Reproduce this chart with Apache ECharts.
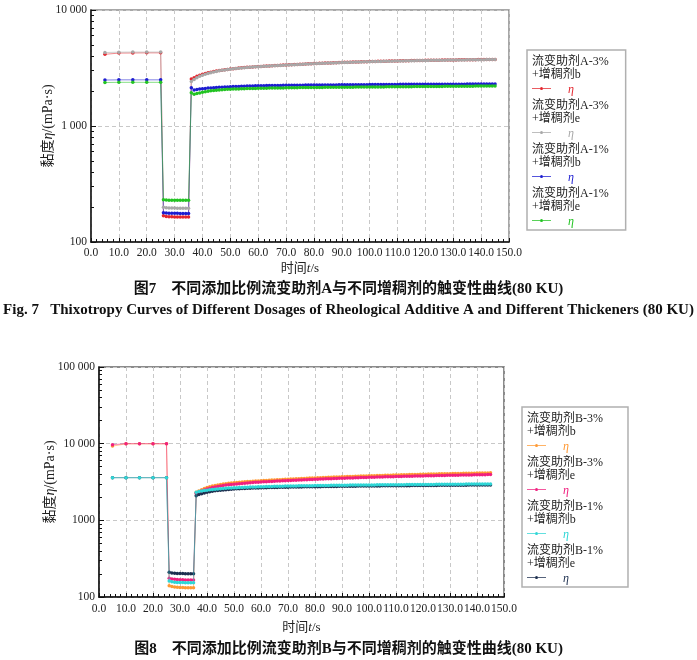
<!DOCTYPE html>
<html><head><meta charset="utf-8">
<script src="https://cdn.jsdelivr.net/npm/echarts@6/dist/echarts.min.js"></script>
<style>html,body{margin:0;padding:0;background:#fff}#c{width:697px;height:660px}</style>
</head><body><div id="c"></div>
<script>
// ---------- data ----------
const time = [5,10,15,20,25,
26,27,28,29,30,31,32,33,34,35,
36,37,38,39,40,41,42,43,44,45,
46,47,48,49,50,51,52,53,54,55,
56,57,58,59,60,61,62,63,64,65,
66,67,68,69,70,71,72,73,74,75,
76,77,78,79,80,81,82,83,84,85,
86,87,88,89,90,91,92,93,94,95,
96,97,98,99,100,101,102,103,104,105,
106,107,108,109,110,111,112,113,114,115,
116,117,118,119,120,121,122,123,124,125,
126,127,128,129,130,131,132,133,134,135,
136,137,138,139,140,141,142,143,144,145];

const namesA = ['流变助剂A-3%+增稠剂b','流变助剂A-3%+增稠剂e','流变助剂A-1%+增稠剂b','流变助剂A-1%+增稠剂e'];
const namesB = ['流变助剂B-3%+增稠剂b','流变助剂B-3%+增稠剂e','流变助剂B-1%+增稠剂b','流变助剂B-1%+增稠剂e'];

const a3b = [4150,4250,4260,4270,4270,
168,166,165,165,164,164,164,164,164,164,
2540,2610,2680,2740,2790,2835,2875,2912,2946,2977,
3005,3031,3055,3077,3098,3118,3137,3155,3172,3188,
3203,3217,3230,3242,3253,3264,3275,3286,3297,3308,
3318,3328,3338,3348,3358,3368,3378,3388,3397,3406,
3415,3424,3433,3442,3451,3460,3468,3476,3484,3492,
3500,3508,3515,3522,3529,3536,3543,3550,3556,3562,
3568,3574,3580,3586,3592,3597,3602,3607,3612,3617,
3622,3627,3632,3637,3642,3646,3650,3654,3658,3662,
3666,3670,3674,3678,3682,3685,3688,3691,3694,3697,
3700,3703,3706,3709,3712,3715,3718,3721,3723,3726,
3729,3731,3734,3736,3739,3741,3744,3746,3748,3750];

const a3e = [4300,4330,4340,4340,4340,
199,197,196,196,196,195,195,195,195,195,
2420,2520,2610,2685,2745,2797,2842,2882,2920,2955,
2990,3018,3044,3067,3089,3110,3129,3147,3164,3180,
3195,3209,3222,3234,3245,3256,3267,3278,3289,3300,
3310,3320,3330,3340,3350,3360,3370,3380,3389,3398,
3407,3416,3425,3434,3443,3452,3460,3468,3476,3484,
3492,3500,3507,3514,3521,3528,3535,3542,3548,3554,
3560,3566,3572,3578,3584,3589,3594,3599,3604,3609,
3614,3619,3624,3629,3634,3638,3642,3646,3650,3654,
3658,3662,3666,3670,3674,3677,3680,3683,3686,3689,
3692,3695,3698,3701,3704,3707,3710,3713,3715,3718,
3721,3723,3726,3728,3731,3733,3736,3738,3740,3742];

const a1b = [2490,2500,2500,2500,2500,
179,178,177,177,177,177,176,176,176,176,
2140,2045,2065,2082,2097,2110,2121,2131,2140,2148,
2155,2162,2168,2174,2180,2185,2190,2195,2199,2203,
2207,2211,2215,2219,2222,2225,2227,2229,2231,2233,
2235,2237,2239,2241,2243,2245,2246,2247,2248,2249,
2250,2251,2252,2253,2254,2255,2256,2257,2258,2259,
2260,2261,2262,2263,2264,2265,2266,2267,2268,2269,
2270,2271,2272,2273,2274,2275,2276,2277,2278,2279,
2280,2281,2282,2283,2284,2285,2285,2286,2286,2287,
2287,2288,2288,2289,2289,2290,2290,2291,2291,2292,
2292,2293,2293,2294,2294,2295,2295,2296,2296,2297,
2297,2298,2298,2299,2299,2300,2300,2300,2301,2301];

const a1e = [2370,2380,2380,2380,2380,
231,230,229,229,229,229,229,229,229,229,
1937,1880,1905,1930,1955,1975,1993,2009,2023,2035,
2045,2054,2062,2069,2075,2080,2085,2089,2093,2097,
2100,2103,2106,2109,2112,2115,2117,2119,2121,2123,
2125,2127,2129,2131,2133,2135,2137,2139,2141,2143,
2145,2146,2147,2148,2149,2150,2151,2152,2153,2154,
2155,2156,2157,2158,2159,2160,2161,2162,2163,2164,
2165,2166,2167,2168,2169,2170,2171,2172,2173,2174,
2175,2176,2177,2178,2179,2180,2181,2182,2183,2184,
2185,2186,2187,2188,2189,2190,2191,2192,2193,2194,
2195,2196,2197,2198,2199,2200,2201,2202,2203,2204,
2205,2206,2207,2208,2209,2210,2211,2212,2213,2214];

const b3b = [9300,9950,9950,9950,9950,
140,137,135,134,133,133,132,132,132,132,
2330,2420,2510,2600,2680,2745,2805,2855,2900,2940,
2977,3010,3040,3068,3095,3118,3140,3161,3181,3200,
3218,3236,3253,3270,3286,3302,3318,3334,3350,3366,
3381,3396,3411,3426,3441,3456,3470,3484,3498,3512,
3526,3540,3553,3566,3579,3592,3605,3617,3629,3641,
3653,3665,3677,3688,3700,3711,3722,3733,3744,3755,
3766,3777,3788,3798,3808,3818,3828,3838,3848,3858,
3868,3878,3887,3896,3905,3914,3923,3932,3941,3950,
3959,3967,3975,3983,3991,3999,4007,4015,4023,4031,
4038,4045,4052,4059,4066,4073,4080,4087,4094,4101,
4107,4113,4119,4125,4131,4137,4143,4149,4155,4160];

const b3e = [9700,10000,10000,10000,10000,
176,172,170,169,168,168,167,167,167,167,
2250,2330,2410,2490,2560,2620,2675,2725,2770,2810,
2846,2879,2909,2937,2963,2987,3010,3032,3053,3073,
3092,3110,3127,3144,3160,3176,3191,3206,3221,3236,
3250,3264,3278,3292,3305,3318,3331,3344,3357,3369,
3381,3393,3405,3417,3429,3441,3452,3463,3474,3485,
3496,3507,3518,3528,3538,3548,3558,3568,3578,3588,
3598,3608,3617,3626,3635,3644,3653,3662,3671,3680,
3689,3698,3706,3714,3722,3730,3738,3746,3754,3762,
3770,3778,3785,3792,3799,3806,3813,3820,3827,3834,
3841,3848,3855,3861,3867,3873,3879,3885,3891,3897,
3903,3909,3915,3921,3927,3933,3939,3945,3951,3957];

const b1b = [3600,3600,3600,3600,3600,
162,158,156,155,154,154,153,153,153,153,
2330,2370,2410,2445,2475,2502,2526,2548,2568,2586,
2602,2617,2631,2644,2656,2667,2677,2687,2696,2705,
2713,2721,2729,2736,2743,2750,2756,2762,2768,2774,
2779,2784,2789,2794,2799,2804,2808,2812,2816,2820,
2824,2828,2832,2836,2840,2844,2847,2850,2853,2856,
2859,2862,2865,2868,2871,2874,2877,2880,2883,2886,
2888,2890,2892,2894,2896,2898,2900,2902,2904,2906,
2908,2910,2912,2914,2916,2918,2920,2922,2924,2926,
2928,2930,2932,2934,2936,2938,2940,2942,2944,2946,
2948,2950,2952,2954,2956,2958,2960,2962,2964,2966,
2968,2970,2972,2974,2976,2978,2980,2982,2984,2986];

const b1e = [3600,3600,3600,3600,3600,
210,206,204,203,202,202,201,201,201,201,
2100,2170,2230,2280,2325,2362,2395,2424,2450,2473,
2494,2513,2530,2546,2560,2573,2585,2596,2606,2615,
2624,2632,2640,2647,2654,2660,2666,2672,2678,2683,
2688,2693,2698,2703,2708,2712,2716,2720,2724,2728,
2732,2736,2740,2743,2746,2749,2752,2755,2758,2761,
2764,2767,2770,2773,2776,2779,2782,2785,2788,2791,
2794,2797,2800,2803,2806,2808,2810,2812,2814,2816,
2818,2820,2822,2824,2826,2828,2830,2832,2834,2836,
2838,2840,2842,2844,2846,2848,2850,2852,2854,2856,
2858,2860,2862,2864,2866,2868,2870,2872,2874,2876,
2878,2880,2882,2884,2886,2888,2890,2892,2894,2896];

const xTicks = [0,10,20,30,40,50,60,70,80,90,100,110,120,130,140,150];
const xTickText = ['0.0','10.0','20.0','30.0','40.0','50.0','60.0','70.0','80.0','90.0','100.0','110.0','120.0','130.0','140.0','150.0'];
const yTicks1 = [100,1000,10000];
const yTickText1 = ['100','1 000','10 000'];
const yTicks2 = [100,1000,10000,100000];
const yTickText2 = ['100','1000','10 000','100 000'];
const yMinor1 = [200,300,400,500,600,700,800,900,2000,3000,4000,5000,6000,7000,8000,9000];
const yMinor2 = [200,300,400,500,600,700,800,900,2000,3000,4000,5000,6000,7000,8000,9000,20000,30000,40000,50000,60000,70000,80000,90000];

const colorsA = ['#e3262e','#a8a8a8','#1c1cd0','#22c322'];
const colorsB = ['#ff9933','#f0207f','#2fd6d6','#1d2f4f'];

const caption7 = '图7　不同添加比例流变助剂A与不同增稠剂的触变性曲线(80 KU)';
const caption7en = 'Fig. 7   Thixotropy Curves of Different Dosages of Rheological Additive A and Different Thickeners (80 KU)';
const caption8 = '图8　不同添加比例流变助剂B与不同增稠剂的触变性曲线(80 KU)';

// ---------- chart ----------
const serif = "'Liberation Serif','Noto Sans CJK SC',serif";
const allNames = namesA.concat(namesB);
const allColors = colorsA.concat(colorsB);

function lookup(ticks, texts, v) {
  for (let i = 0; i < ticks.length; i++) if (Math.abs(v - ticks[i]) <= ticks[i] * 1e-6) return texts[i];
  return '';
}

const LH = 13.4;
const rich = {};
allColors.forEach((c, k) => {
  rich['l' + k] = { width: 8, height: 1, backgroundColor: c, opacity: 0.75, lineHeight: LH };
  rich['d' + k] = { width: 3, height: 3, backgroundColor: c, borderRadius: 1.5, lineHeight: LH };
  rich['e' + k] = { color: c, fontStyle: 'italic', fontFamily: serif, fontSize: 12, lineHeight: LH, padding: [3, 0, 0, 0] };
});
rich.s = { width: 17, lineHeight: LH };

function legendFmt(name) {
  const k = allNames.indexOf(name);
  const p = name.split('+');
  return p[0] + '\n+' + p[1] + '\n{l' + k + '|}{d' + k + '|}{l' + k + '|}{s|}{e' + k + '|η}';
}

function mkSeries(name, vals, color, xi, yi, z) {
  return {
    type: 'line', name: name, xAxisIndex: xi, yAxisIndex: yi, z: z || 2,
    data: time.map((t, i) => [t, vals[i]]),
    symbol: 'circle', symbolSize: 3.5, showAllSymbol: true,
    itemStyle: { color: color },
    lineStyle: { color: color, width: 1, opacity: 0.55 },
    emphasis: { disabled: true }, animation: false
  };
}

function xAxisCfg(grid, labelMargin, nameGap) {
  return {
    type: 'value', gridIndex: grid, min: 0, max: 150, interval: 10,
    name: '时间{i|t}/s', nameLocation: 'middle', nameGap: nameGap, nameMoveOverlap: false,
    nameTextStyle: { fontFamily: serif, fontSize: 13, color: '#222',
      rich: { i: { fontStyle: 'italic', fontFamily: serif, fontSize: 13, color: '#222' } } },
    axisLine: { show: true, onZero: false, lineStyle: { color: '#111', width: 1.5 } },
    axisTick: { show: true, inside: true, length: 4, lineStyle: { color: '#111' } },
    minorTick: { show: true, splitNumber: 5, length: 3, lineStyle: { color: '#111' } },
    axisLabel: { margin: labelMargin, fontFamily: serif, fontSize: 11.5, color: '#222',
      formatter: v => lookup(xTicks, xTickText, v) },
    splitLine: { show: true, lineStyle: { color: '#c8c8c8', type: [4, 3], width: 1 } }
  };
}

function yAxisCfg(grid, max, ticks, texts, nameGap) {
  return {
    type: 'log', logBase: 10, gridIndex: grid, min: 100, max: max,
    name: '黏度{i|η}/(mPa·s)', nameLocation: 'middle', nameGap: nameGap, nameRotate: 90, nameMoveOverlap: false,
    nameTextStyle: { fontFamily: serif, fontSize: 14, color: '#222',
      rich: { i: { fontStyle: 'italic', fontFamily: serif, fontSize: 14, color: '#222' } } },
    axisLine: { show: true, lineStyle: { color: '#111', width: 1.5 } },
    axisTick: { show: true, inside: true, length: 5, customValues: ticks, lineStyle: { color: '#111' } },
    axisLabel: { margin: 4, fontFamily: serif, fontSize: 11.5, color: '#222', customValues: ticks,
      formatter: v => lookup(ticks, texts, v) },
    splitLine: { show: true, lineStyle: { color: '#c8c8c8', type: [4, 3], width: 1 } }
  };
}

function yMinorCfg(grid, max, minor) {
  return {
    type: 'log', logBase: 10, gridIndex: grid, min: 100, max: max, position: 'left',
    axisLine: { show: false },
    axisTick: { show: true, inside: true, length: 3, customValues: minor, lineStyle: { color: '#111' } },
    axisLabel: { show: false }, splitLine: { show: false }
  };
}

function legendCfg(left, top, names, padRight) {
  return {
    orient: 'vertical', left: left, top: top, data: names,
    icon: 'rect', itemWidth: 0, itemHeight: 0, itemGap: 3,
    padding: [5, padRight, 2, 0],
    borderColor: '#b0b0b0', borderWidth: 1.5, backgroundColor: '#fff',
    selectedMode: false,
    formatter: legendFmt,
    textStyle: { fontFamily: serif, fontSize: 12, color: '#222', lineHeight: LH, rich: rich }
  };
}

const chart = echarts.init(document.getElementById('c'), null, { renderer: 'canvas' });
chart.setOption({
  animation: false,
  backgroundColor: '#fff',
  title: [
    { text: caption7, left: 'center', top: 282, padding: 0,
      textStyle: { fontFamily: serif, fontSize: 15, fontWeight: 'bold', color: '#111' } },
    { text: caption7en, left: 'center', top: 303, padding: 0,
      textStyle: { fontFamily: serif, fontSize: 15, fontWeight: 'bold', color: '#111' } },
    { text: caption8, left: 'center', top: 642, padding: 0,
      textStyle: { fontFamily: serif, fontSize: 15, fontWeight: 'bold', color: '#111' } }
  ],
  grid: [
    { left: 91, top: 10, width: 418, height: 232, show: true, borderColor: '#8a8a8a', borderWidth: 1.5, containLabel: false },
    { left: 99, top: 367, width: 405, height: 230, show: true, borderColor: '#666', borderWidth: 1.5, containLabel: false }
  ],
  xAxis: [xAxisCfg(0, 5, 20), xAxisCfg(1, 6, 24)],
  yAxis: [
    yAxisCfg(0, 10000, yTicks1, yTickText1, 36),
    yMinorCfg(0, 10000, yMinor1),
    yAxisCfg(1, 100000, yTicks2, yTickText2, 42),
    yMinorCfg(1, 100000, yMinor2)
  ],
  legend: [legendCfg(527, 50, namesA, 17), legendCfg(522, 407, namesB, 25)],
  series: [
    mkSeries(namesA[0], a3b, colorsA[0], 0, 0),
    mkSeries(namesA[1], a3e, colorsA[1], 0, 0),
    mkSeries(namesA[2], a1b, colorsA[2], 0, 0),
    mkSeries(namesA[3], a1e, colorsA[3], 0, 0),
    mkSeries(namesB[0], b3b, colorsB[0], 1, 2),
    mkSeries(namesB[1], b3e, colorsB[1], 1, 2),
    mkSeries(namesB[2], b1b, colorsB[2], 1, 2, 3),
    mkSeries(namesB[3], b1e, colorsB[3], 1, 2)
  ]
});
</script></body></html>
